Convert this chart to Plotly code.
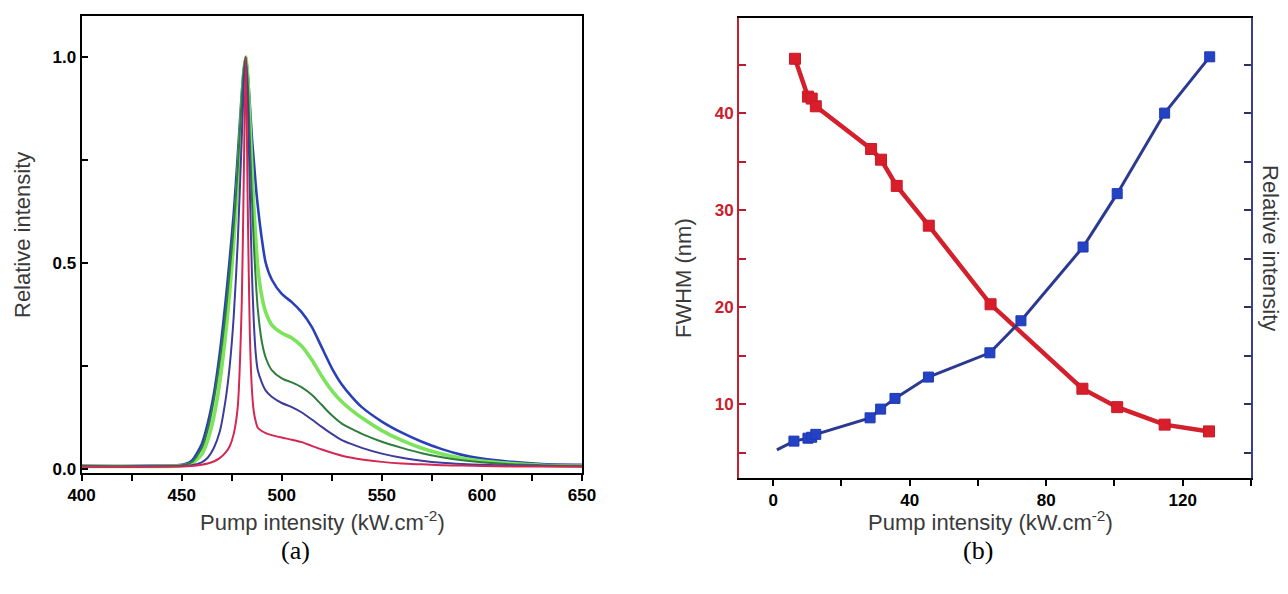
import plotly.graph_objects as go

# ---------------- Panel (a): emission spectra ----------------
wavelength = [400, 420, 440, 450, 455, 460, 463, 466, 469, 472, 474, 476, 478, 480, 481, 482,
              483, 484, 485, 486, 487, 488, 490, 492, 495, 500, 505, 510, 515, 520, 525, 530,
              535, 540, 550, 560, 570, 580, 590, 600, 615, 630, 650]

spec_blue = [0.008, 0.007, 0.008, 0.010, 0.02, 0.06, 0.11, 0.18, 0.28, 0.41, 0.51, 0.62, 0.76, 0.91, 0.97, 1.0,
             0.96, 0.89, 0.81, 0.75, 0.69, 0.64, 0.56, 0.50, 0.46, 0.425, 0.405, 0.38, 0.345, 0.295, 0.245, 0.205,
             0.175, 0.15, 0.115, 0.088, 0.066, 0.048, 0.034, 0.025, 0.017, 0.012, 0.010]
spec_lightgreen = [0.006, 0.006, 0.006, 0.008, 0.013, 0.035, 0.07, 0.125, 0.21, 0.33, 0.43, 0.55, 0.70, 0.88, 0.96, 1.0,
                   0.95, 0.85, 0.74, 0.64, 0.56, 0.49, 0.42, 0.38, 0.35, 0.33, 0.318, 0.298, 0.265, 0.225, 0.19, 0.163,
                   0.142, 0.124, 0.093, 0.069, 0.05, 0.036, 0.026, 0.019, 0.013, 0.009, 0.007]
spec_darkgreen = [0.007, 0.006, 0.007, 0.009, 0.016, 0.05, 0.095, 0.165, 0.26, 0.38, 0.48, 0.59, 0.73, 0.90, 0.97, 1.0,
                  0.94, 0.81, 0.67, 0.55, 0.46, 0.39, 0.31, 0.27, 0.24, 0.22, 0.21, 0.198, 0.18, 0.155, 0.13, 0.11,
                  0.097, 0.085, 0.066, 0.051, 0.038, 0.028, 0.021, 0.016, 0.011, 0.009, 0.007]
spec_purple = [0.006, 0.006, 0.006, 0.007, 0.009, 0.016, 0.027, 0.05, 0.09, 0.17, 0.25, 0.37, 0.55, 0.80, 0.93, 1.0,
               0.89, 0.69, 0.49, 0.36, 0.28, 0.24, 0.21, 0.19, 0.175, 0.16, 0.15, 0.137, 0.12, 0.102, 0.085, 0.07,
               0.06, 0.051, 0.037, 0.027, 0.02, 0.015, 0.012, 0.01, 0.008, 0.007, 0.006]
spec_red = [0.006, 0.005, 0.006, 0.006, 0.007, 0.01, 0.013, 0.018, 0.026, 0.04, 0.055, 0.085, 0.15, 0.40, 0.70, 1.0,
            0.64, 0.34, 0.20, 0.14, 0.115, 0.10, 0.092, 0.087, 0.082, 0.076, 0.071, 0.065, 0.056, 0.047, 0.039, 0.032,
            0.027, 0.023, 0.017, 0.013, 0.011, 0.009, 0.008, 0.007, 0.006, 0.006, 0.006]

# ---------------- Panel (b): FWHM and intensity vs pump ----------------
pump_red = [6.4, 10.2, 11.3, 12.5, 28.7, 31.6, 36.2, 45.6, 63.7, 90.6, 100.8, 114.7, 127.7]
fwhm_nm = [45.6, 41.7, 41.5, 40.7, 36.3, 35.2, 32.5, 28.4, 20.3, 11.6, 9.7, 7.9, 7.2]

pump_blue = [1.1, 6.1, 10.2, 11.3, 12.5, 28.4, 31.5, 35.7, 45.5, 63.5, 72.6, 90.8, 100.8, 114.7, 127.9]
rel_intensity = [5.3, 6.2, 6.5, 6.6, 6.9, 8.6, 9.5, 10.6, 12.8, 15.3, 18.6, 26.2, 31.7, 40.0, 45.8]
blue_marker_size = [0, 10, 10, 10, 10, 10, 10, 10, 10, 10, 10, 10, 10, 10, 10]

TICKFONT = dict(family="Liberation Sans", size=17, color="black", weight="bold")
TITLEFONT = dict(family="Liberation Sans", size=22, color="#3a3a3a")

W, H = 1288, 594
OFF = 8  # default page body margin


def px_x(x):
    return (x - OFF) / W


def px_y(y):
    return 1 - (y - OFF) / H


fig = go.Figure()

spectra = [
    (spec_blue, "#2a40b8", 2.6),
    (spec_lightgreen, "#7ce35c", 3.6),
    (spec_darkgreen, "#2f7d3c", 2.0),
    (spec_purple, "#3d3b9c", 2.0),
    (spec_red, "#d42852", 2.0),
]
for ys, col, w in spectra:
    fig.add_trace(go.Scatter(x=wavelength, y=ys, mode="lines",
                             line=dict(color=col, width=w, shape="spline", smoothing=0.7),
                             xaxis="x", yaxis="y", showlegend=False))

fig.add_trace(go.Scatter(x=pump_red, y=fwhm_nm, mode="lines+markers",
                         line=dict(color="#d4202c", width=4.5),
                         marker=dict(symbol="square", size=11, color="#d81e2a", opacity=1,
                                     line=dict(color="#c81a28", width=1)),
                         xaxis="x2", yaxis="y2", showlegend=False))
fig.add_trace(go.Scatter(x=pump_blue, y=rel_intensity, mode="lines+markers",
                         line=dict(color="#2b3990", width=3),
                         marker=dict(symbol="square", size=blue_marker_size, color="#2443c4", opacity=1,
                                     line=dict(color="#1f38b4", width=1)),
                         xaxis="x2", yaxis="y3", showlegend=False))

fig.update_layout(
    width=W, height=H, autosize=False,
    margin=dict(l=0, r=0, t=0, b=0),
    paper_bgcolor="white", plot_bgcolor="white",
    xaxis=dict(domain=[px_x(81.6), px_x(582)], range=[400, 650], tickmode="linear", tick0=400, dtick=50,
               showline=True, mirror=True, linecolor="black", linewidth=2,
               ticks="outside", ticklen=6, tickwidth=1.5, tickcolor="black",
               minor=dict(dtick=25, ticks="outside", ticklen=6, tickcolor="black", tickwidth=1.5),
               showgrid=False, zeroline=False, tickfont=TICKFONT, anchor="y", automargin=False),
    yaxis=dict(domain=[px_y(473), px_y(16)], range=[-0.01, 1.10], tickvals=[0, 0.5, 1.0],
               ticktext=["0.0", "0.5", "1.0"],
               showline=True, mirror=True, linecolor="black", linewidth=2,
               ticks="inside", ticklen=6, tickwidth=1.5, tickcolor="black",
               minor=dict(tickvals=[0.25, 0.75], ticks="inside", ticklen=6, tickcolor="black", tickwidth=1.5),
               showgrid=False, zeroline=False, tickfont=TICKFONT, anchor="x", automargin=False),
    xaxis2=dict(domain=[px_x(739), px_x(1251)], range=[-10, 140], tickmode="linear", tick0=0, dtick=40,
                showline=True, mirror=True, linecolor="black", linewidth=2,
                ticks="outside", ticklen=6, tickwidth=1.5, tickcolor="black",
                minor=dict(dtick=20, ticks="outside", ticklen=6, tickcolor="black", tickwidth=1.5),
                showgrid=False, zeroline=False, tickfont=TICKFONT, anchor="y2", automargin=False),
    yaxis2=dict(domain=[px_y(478), px_y(18)], range=[2.4, 49.8], tickmode="linear", tick0=0, dtick=10,
                showline=True, linecolor="#c8202c", linewidth=2,
                ticks="inside", ticklen=7, tickwidth=1.5, tickcolor="#b02030",
                minor=dict(dtick=5, ticks="inside", ticklen=7, tickcolor="#b02030", tickwidth=1.5),
                showgrid=False, zeroline=False,
                tickfont=dict(family="Liberation Sans", size=17, color="#c8202c", weight="bold"),
                anchor="x2", automargin=False),
    yaxis3=dict(domain=[px_y(478), px_y(18)], range=[2.4, 49.8], overlaying="y2", side="right",
                tickmode="linear", tick0=0, dtick=5, showticklabels=False,
                showline=True, linecolor="#3a3f8f", linewidth=2,
                ticks="inside", ticklen=7, tickwidth=1.5, tickcolor="#303060",
                showgrid=False, zeroline=False, anchor="x2", automargin=False),
)

anns = [
    dict(text="Relative intensity", x=px_x(22), y=px_y(235), textangle=-90, font=TITLEFONT),
    dict(text="Pump intensity (kW.cm<sup>-2</sup>)", x=px_x(322), y=px_y(521), font=TITLEFONT),
    dict(text="FWHM (nm)", x=px_x(683), y=px_y(278), textangle=-90, font=TITLEFONT),
    dict(text="Relative intensity", x=px_x(1270), y=px_y(248), textangle=90, font=TITLEFONT),
    dict(text="Pump intensity (kW.cm<sup>-2</sup>)", x=px_x(990), y=px_y(521), font=TITLEFONT),
    dict(text="(a)", x=px_x(295), y=px_y(550),
         font=dict(family="Liberation Serif", size=26, color="black")),
    dict(text="(b)", x=px_x(978), y=px_y(550),
         font=dict(family="Liberation Serif", size=26, color="black")),
]
for a in anns:
    fig.add_annotation(xref="paper", yref="paper", showarrow=False,
                       xanchor="center", yanchor="middle", **a)

fig.write_html("out.html")
